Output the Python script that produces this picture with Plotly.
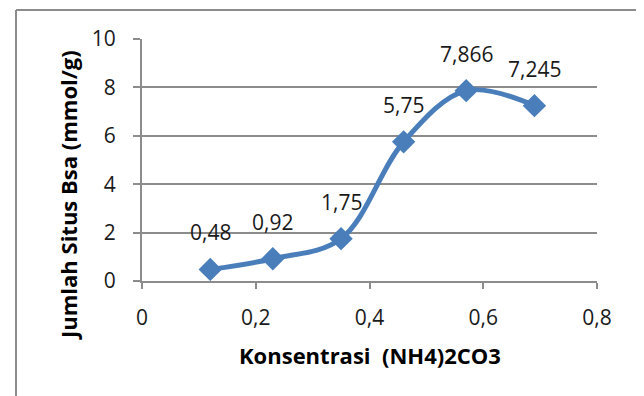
import plotly.graph_objects as go

konsentrasi = [0.12, 0.23, 0.35, 0.46, 0.57, 0.69]
situs_bsa = [0.48, 0.92, 1.75, 5.75, 7.866, 7.245]
x_ticks = [0, 0.2, 0.4, 0.6, 0.8]
y_ticks = [0, 2, 4, 6, 8, 10]

labels = [str(v).replace('.', ',') for v in situs_bsa]

OFF = 8  # page body margin in the browser
W, H = 644 - OFF, 396 - OFF
L, R, T, B = 142 - OFF, 47, 39 - OFF, 115
pw, ph = W - L - R, H - T - B

def px(xpix):
    return (xpix - OFF - L) / pw

def py(ypix):
    return (H - B - (ypix - OFF)) / ph

grid = '#8c8c8c'
blue = '#4a7ebb'
font = 'Open Sans'

fig = go.Figure()
fig.add_trace(go.Scatter(
    x=konsentrasi, y=situs_bsa, mode='lines+markers',
    line=dict(color=blue, width=5, shape='spline', smoothing=1),
    marker=dict(symbol='diamond', size=18, color=blue),
    showlegend=False, hoverinfo='skip'))

for xv, yv, t in zip(konsentrasi, situs_bsa, labels):
    fig.add_annotation(x=xv, y=yv, text=t, showarrow=False, yshift=37,
                       xanchor='center', yanchor='middle',
                       font=dict(family=font, size=21, color='#1a1a1a'))

fig.add_annotation(xref='paper', yref='paper', x=px(68), y=py(195),
                   xanchor='center', yanchor='middle',
                   text='<b>Jumlah Situs Bsa (mmol/g)</b>', textangle=-90,
                   showarrow=False, font=dict(family=font, size=22, color='#000'))

fig.add_annotation(xref='paper', yref='paper', x=px(370), y=py(355),
                   xanchor='center', yanchor='middle',
                   text='<b>Konsentrasi  (NH4)2CO3</b>',
                   showarrow=False, font=dict(family=font, size=22, color='#000'))

# outer chart border
for (x0, y0, x1, y1) in [(16, 10, 642, 10), (16, 10, 16, 400), (642, 10, 642, 400)]:
    fig.add_shape(type='line', xref='paper', yref='paper',
                  x0=px(x0), y0=py(y0), x1=px(x1), y1=py(y1),
                  line=dict(color=grid, width=2))

fig.update_layout(
    width=W, height=H, margin=dict(l=L, r=R, t=T, b=B),
    paper_bgcolor='white', plot_bgcolor='white',
    separators=',.',
    font=dict(family=font, size=21, color='#1a1a1a'),
    xaxis=dict(range=[0, 0.8], tickvals=x_ticks, showgrid=False,
               showline=True, linecolor=grid, linewidth=2,
               ticks='outside', ticklen=6, tickwidth=2, tickcolor=grid,
               zeroline=False, tickfont=dict(size=21), ticklabelstandoff=11),
    yaxis=dict(range=[0, 10], tickvals=y_ticks, showgrid=True, gridcolor=grid, gridwidth=2,
               showline=True, linecolor=grid, linewidth=2,
               ticks='outside', ticklen=7, tickwidth=2, tickcolor=grid,
               zeroline=False, tickfont=dict(size=21), ticklabelstandoff=13),
)

fig.write_html('out.html')
